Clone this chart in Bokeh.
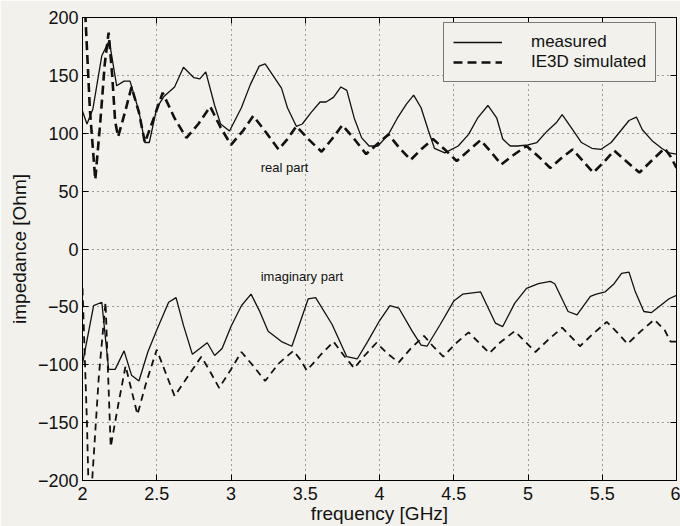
from bokeh.plotting import figure
from bokeh.models import Range1d, LinearAxis, FixedTicker, Label, Legend, LegendItem
from bokeh.embed import file_html
from bokeh.resources import INLINE

# ---- data ----
x_ticks = [2, 2.5, 3, 3.5, 4, 4.5, 5, 5.5, 6]
x_tick_labels = ["2", "2.5", "3", "3.5", "4", "4.5", "5", "5.5", "6"]
y_ticks = [-200, -150, -100, -50, 0, 50, 100, 150, 200]
y_tick_labels = ["\u2212200", "\u2212150", "\u2212100", "\u221250", "0", "50", "100", "150", "200"]

meas_re_f = [2.00, 2.03, 2.07, 2.13, 2.18, 2.23, 2.28, 2.32, 2.38, 2.42, 2.45, 2.50, 2.55, 2.62,
             2.68, 2.75, 2.79, 2.83, 2.89, 2.93, 2.99, 3.07, 3.13, 3.19, 3.23, 3.34, 3.38, 3.44,
             3.48, 3.54, 3.60, 3.64, 3.69, 3.74, 3.78, 3.83, 3.88, 3.93, 3.99, 4.06, 4.12, 4.18,
             4.23, 4.28, 4.33, 4.37, 4.44, 4.53, 4.60, 4.66, 4.73, 4.79, 4.83, 4.88, 4.93, 5.00,
             5.06, 5.13, 5.19, 5.23, 5.29, 5.36, 5.43, 5.49, 5.56, 5.63, 5.68, 5.73, 5.77, 5.84,
             5.90, 5.95, 6.00]
meas_re = [119, 108, 121, 167, 180, 141, 145, 145, 119, 92, 92, 122, 132, 140,
           157, 148, 147, 153, 124, 108, 102, 122, 142, 158, 160, 139, 122, 106,
           108, 118, 127, 127, 131, 140, 137, 113, 96, 89, 89, 99, 113, 125,
           133, 122, 102, 87, 83, 89, 99, 113, 124, 113, 95, 89, 89, 90,
           92, 102, 109, 116, 105, 92, 87, 86, 92, 103, 111, 114, 103, 93,
           87, 83, 82]

sim_re_f = [2.00, 2.02, 2.05, 2.086, 2.12, 2.15, 2.176, 2.20, 2.22, 2.24, 2.29, 2.33, 2.38, 2.42,
            2.48, 2.54, 2.62, 2.70, 2.78, 2.86, 2.93, 3.00, 3.08, 3.15, 3.24, 3.32, 3.38, 3.44,
            3.52, 3.61, 3.68, 3.75, 3.83, 3.91, 3.98, 4.06, 4.13, 4.21, 4.28, 4.36, 4.44, 4.52,
            4.60, 4.68, 4.75, 4.82, 4.90, 4.99, 5.07, 5.15, 5.22, 5.30, 5.37, 5.44, 5.51, 5.58,
            5.66, 5.75, 5.83, 5.92, 5.96, 6.00]
sim_re = [240, 200, 120, 60, 110, 160, 187, 150, 110, 97, 120, 140, 118, 92,
          113, 135, 113, 96, 108, 123, 105, 90, 102, 115, 100, 86, 95, 106,
          95, 84, 95, 107, 95, 82, 90, 99, 88, 77, 86, 95, 86, 76,
          85, 94, 84, 73, 81, 89, 80, 70, 78, 86, 76, 66, 75, 85,
          76, 66, 76, 87, 80, 70]

meas_im_f = [2.00, 2.075, 2.13, 2.176, 2.22, 2.28, 2.33, 2.38, 2.44, 2.50, 2.58, 2.63, 2.68, 2.74,
             2.84, 2.89, 2.94, 3.00, 3.07, 3.135, 3.19, 3.25, 3.34, 3.41, 3.52, 3.57, 3.68, 3.78,
             3.85, 3.92, 4.00, 4.07, 4.13, 4.22, 4.28, 4.32, 4.41, 4.50, 4.56, 4.68, 4.78, 4.83,
             4.91, 4.99, 5.07, 5.15, 5.18, 5.27, 5.33, 5.42, 5.46, 5.52, 5.58, 5.63, 5.68, 5.72,
             5.78, 5.83, 5.89, 5.95, 6.00]
meas_im = [-99, -49, -46, -104, -104, -88, -109, -114, -89, -70, -46, -42, -66, -91,
           -81, -92, -86, -67, -49, -39, -53, -71, -80, -84, -43, -42, -65, -93,
           -95, -80, -62, -49, -51, -71, -83, -84, -65, -45, -39, -37, -64, -67,
           -47, -34, -30, -28, -30, -54, -57, -41, -39, -37, -30, -21, -20, -36,
           -54, -55, -49, -43, -40]

sim_im_f = [2.00, 2.03, 2.045, 2.065, 2.11, 2.155, 2.17, 2.19, 2.24, 2.29, 2.33, 2.37, 2.43, 2.50,
            2.56, 2.62, 2.71, 2.80, 2.86, 2.92, 3.00, 3.07, 3.15, 3.23, 3.32, 3.42, 3.47, 3.51,
            3.60, 3.69, 3.76, 3.83, 3.90, 3.98, 4.05, 4.13, 4.21, 4.30, 4.36, 4.43, 4.51, 4.60,
            4.67, 4.74, 4.81, 4.91, 4.98, 5.05, 5.14, 5.23, 5.29, 5.35, 5.44, 5.53, 5.60, 5.67,
            5.76, 5.85, 5.92, 5.96, 6.00]
sim_im = [-34, -150, -230, -200, -110, -46, -100, -171, -135, -101, -122, -143, -115, -87,
          -107, -127, -110, -93, -106, -120, -104, -89, -101, -114, -99, -88, -96, -105,
          -92, -80, -92, -103, -92, -81, -90, -98, -86, -75, -84, -93, -82, -72,
          -81, -90, -81, -71, -80, -89, -78, -68, -76, -84, -73, -63, -72, -82,
          -71, -61, -70, -80, -80]

# ---- figure ----
PAPER = "#f2f1ec"
FONT = "Liberation Sans"

p = figure(width=680, height=526, output_backend="svg", toolbar_location=None,
           x_range=Range1d(2, 6), y_range=Range1d(-200, 200),
           min_border_left=82, min_border_right=4, min_border_top=17, min_border_bottom=46,
           background_fill_color=PAPER, border_fill_color=PAPER)

p.outline_line_color = "black"
p.outline_line_width = 1

xt = FixedTicker(ticks=x_ticks)
yt = FixedTicker(ticks=y_ticks)

for ax, tk, labels in ((p.xaxis[0], xt, x_tick_labels), (p.yaxis[0], yt, y_tick_labels)):
    ax.ticker = tk
    ax.major_label_overrides = {t: l for t, l in zip(tk.ticks, labels)}
    ax.major_tick_in = 6
    ax.major_tick_out = 0
    ax.minor_tick_in = 0
    ax.minor_tick_out = 0
    ax.axis_line_color = "black"
    ax.major_tick_line_color = "black"
    ax.major_label_text_font = FONT
    ax.major_label_text_font_size = "18px"
    ax.major_label_text_color = "#111111"
    ax.axis_label_text_font = FONT
    ax.axis_label_text_font_size = "19px"
    ax.axis_label_text_font_style = "normal"
    ax.axis_label_text_color = "#111111"

p.xaxis[0].axis_label = "frequency [GHz]"
p.xaxis[0].major_label_standoff = 6
p.xaxis[0].axis_label_standoff = 0
p.yaxis[0].axis_label = "impedance [Ohm]"
p.yaxis[0].major_label_standoff = 4
p.yaxis[0].axis_label_standoff = 5

for side, tk in (("right", yt), ("above", xt)):
    ax = LinearAxis(ticker=tk, major_tick_in=6, major_tick_out=0, minor_tick_in=0, minor_tick_out=0,
                    major_label_overrides={t: "" for t in tk.ticks}, major_label_standoff=0,
                    axis_line_color="black", major_tick_line_color="black")
    p.add_layout(ax, side)

for g in (p.xgrid[0], p.ygrid[0]):
    g.grid_line_color = "#333333"
    g.grid_line_dash = "1 4"
    g.grid_line_width = 1
    g.grid_line_alpha = 0.9
p.xgrid[0].ticker = xt
p.ygrid[0].ticker = yt

r1 = p.line(meas_re_f, meas_re, line_color="#111111", line_width=1.3)
p.line(meas_im_f, meas_im, line_color="#111111", line_width=1.3)
r2 = p.line(sim_re_f, sim_re, line_color="#111111", line_width=2.6, line_dash="9 5")
p.line(sim_im_f, sim_im, line_color="#111111", line_width=1.8, line_dash="7 5")

legend = Legend(items=[LegendItem(label="measured", renderers=[r1]),
                       LegendItem(label="IE3D simulated", renderers=[r2])],
                location=(361, 398), padding=9, spacing=0, margin=0,
                label_height=18, glyph_height=18, glyph_width=49, label_standoff=29,
                label_text_font=FONT, label_text_font_size="17px", label_text_color="#111111",
                border_line_color="black", border_line_width=1,
                background_fill_color=PAPER, background_fill_alpha=1)
p.add_layout(legend, "center")

p.add_layout(Label(x=3.2, y=70, text="real part", text_font=FONT, text_font_size="13px",
                   text_baseline="middle", text_color="#111111"))
p.add_layout(Label(x=3.2, y=-24, text="imaginary part", text_font=FONT, text_font_size="13px",
                   text_baseline="middle", text_color="#111111"))

open("out.html", "w").write(file_html(p, INLINE))
